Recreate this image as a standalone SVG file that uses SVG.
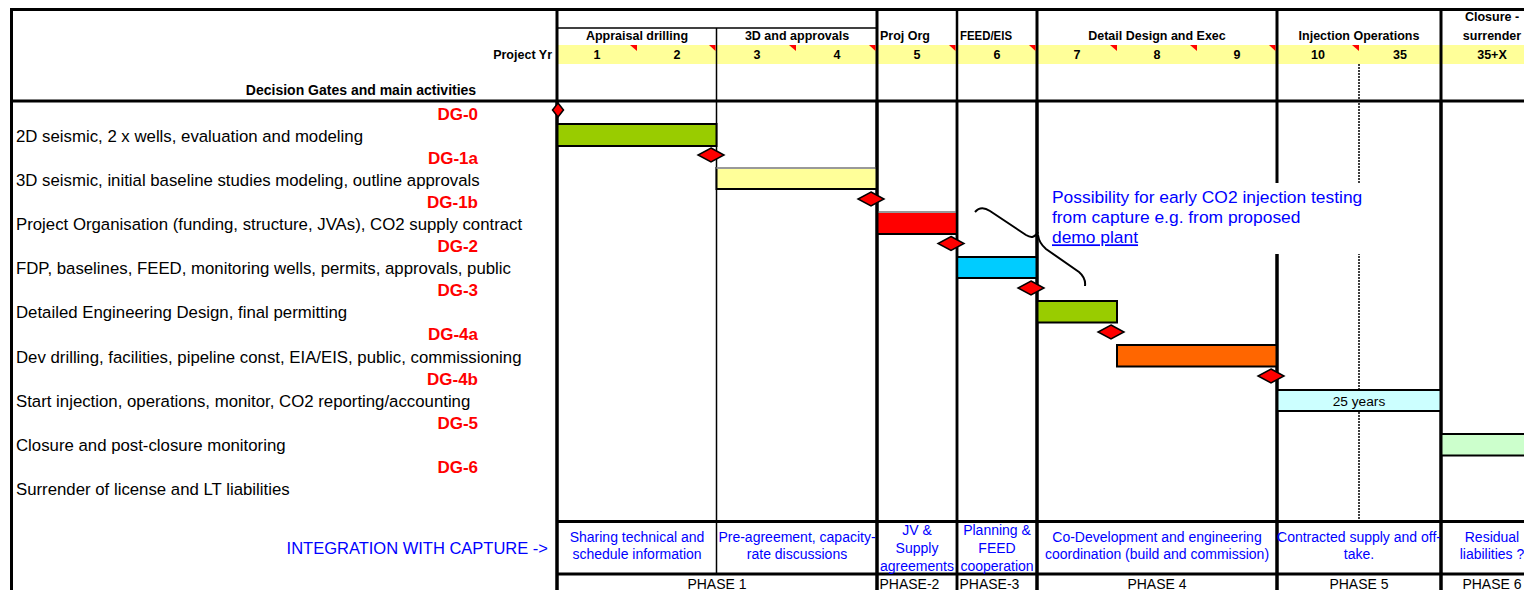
<svg xmlns="http://www.w3.org/2000/svg" width="1524" height="590" viewBox="0 0 1524 590">
<style>
text { font-family: "Liberation Sans", Arial, sans-serif; }
.hb { font-size:12.5px; font-weight:bold; fill:#000; text-anchor:middle; }
.lbl { font-size:16.8px; fill:#000; }
.dg { font-size:17px; font-weight:bold; fill:#FF0000; text-anchor:end; }
.int { font-size:14px; fill:#0000FF; text-anchor:middle; }
.ph { font-size:14px; fill:#000; }
.thick { stroke:#000; stroke-width:3; fill:none; }
.med { stroke:#000; stroke-width:2.5; fill:none; }
.thin { stroke:#000; stroke-width:1.5; fill:none; }
.dot { stroke:#000; stroke-width:1.5; stroke-dasharray:2 1; fill:none; }
.bar { stroke:#000; stroke-width:2; }
.ms { fill:#FF0000; stroke:#000; stroke-width:1.5; }
.tri { fill:#FF0000; }
.call { font-size:17.4px; fill:#0000FF; }
</style>
<rect x="0" y="0" width="1524" height="590" fill="#FFFFFF"/>

<g id="header-band">
  <rect x="558" y="45" width="966" height="19" fill="#FFFF99"/>
</g>

<g id="grid">
  <path class="thick" d="M10,9.5 H1524"/>
  <path class="thick" d="M11.5,8 V590"/>
  <path class="thick" d="M10,101 H1524"/>
  <path class="thick" d="M557,8 V590"/>
  <path class="thin" d="M557,28 H877"/>
  <path class="thin" d="M716.5,28 V574"/>
  <path class="thick" d="M877,8 V590"/>
  <path class="med" d="M957,8 V590"/>
  <path class="thick" d="M1037,8 V590"/>
  <path class="thick" d="M1277,8 V590"/>
  <path class="dot" d="M1359,64 V521"/>
  <path class="thick" d="M1441,8 V590"/>
  <path class="thick" d="M557,521.5 H1524"/>
  <path class="thick" d="M557,574 H1524"/>
</g>

<g id="comment-marks">
  <polygon class="tri" points="630,45 637,45 637,51"/>
  <polygon class="tri" points="709,45 715.5,45 715.5,51"/>
  <polygon class="tri" points="789,45 796,45 796,51"/>
  <polygon class="tri" points="869,45 875.5,45 875.5,51"/>
  <polygon class="tri" points="949,45 955.5,45 955.5,51"/>
  <polygon class="tri" points="1029,45 1035.5,45 1035.5,51"/>
  <polygon class="tri" points="1110,45 1117,45 1117,51"/>
  <polygon class="tri" points="1190,45 1197,45 1197,51"/>
  <polygon class="tri" points="1269,45 1275.5,45 1275.5,51"/>
  <polygon class="tri" points="1352,45 1359,45 1359,51"/>
</g>

<g id="header-text">
  <text class="hb" x="552" y="58.5" style="text-anchor:end">Project Yr</text>
  <text x="361" y="95" style="font-size:14px;font-weight:bold;text-anchor:middle">Decision Gates and main activities</text>
  <text class="hb" x="637" y="40">Appraisal drilling</text>
  <text class="hb" x="797" y="40">3D and approvals</text>
  <text class="hb" x="880" y="40" style="text-anchor:start">Proj Org</text>
  <text class="hb" x="960" y="40" style="text-anchor:start" textLength="52" lengthAdjust="spacingAndGlyphs">FEED/EIS</text>
  <text class="hb" x="1157" y="40">Detail Design and Exec</text>
  <text class="hb" x="1359" y="40">Injection Operations</text>
  <text class="hb" x="1492" y="21">Closure -</text>
  <text class="hb" x="1492" y="40">surrender</text>
  <text class="hb" x="597" y="58.5">1</text>
  <text class="hb" x="677" y="58.5">2</text>
  <text class="hb" x="757" y="58.5">3</text>
  <text class="hb" x="837" y="58.5">4</text>
  <text class="hb" x="917" y="58.5">5</text>
  <text class="hb" x="997" y="58.5">6</text>
  <text class="hb" x="1077" y="58.5">7</text>
  <text class="hb" x="1157" y="58.5">8</text>
  <text class="hb" x="1237" y="58.5">9</text>
  <text class="hb" x="1318" y="58.5">10</text>
  <text class="hb" x="1400" y="58.5">35</text>
  <text class="hb" x="1492" y="58.5">35+X</text>
</g>

<g id="row-labels">
  <text class="dg" x="478" y="119.6">DG-0</text>
  <text class="lbl" x="16" y="141.7">2D seismic, 2 x wells, evaluation and modeling</text>
  <text class="dg" x="478" y="163.8">DG-1a</text>
  <text class="lbl" x="16" y="185.8">3D seismic, initial baseline studies modeling, outline approvals</text>
  <text class="dg" x="478" y="207.9">DG-1b</text>
  <text class="lbl" x="16" y="230">Project Organisation (funding, structure, JVAs), CO2 supply contract</text>
  <text class="dg" x="478" y="252.1">DG-2</text>
  <text class="lbl" x="16" y="274.2">FDP, baselines, FEED, monitoring wells, permits, approvals, public</text>
  <text class="dg" x="478" y="296.2">DG-3</text>
  <text class="lbl" x="16" y="318.3">Detailed Engineering Design, final permitting</text>
  <text class="dg" x="478" y="340.4">DG-4a</text>
  <text class="lbl" x="16" y="362.5">Dev drilling, facilities, pipeline const, EIA/EIS, public, commissioning</text>
  <text class="dg" x="478" y="384.6">DG-4b</text>
  <text class="lbl" x="16" y="406.6">Start injection, operations, monitor, CO2 reporting/accounting</text>
  <text class="dg" x="478" y="428.7">DG-5</text>
  <text class="lbl" x="16" y="450.8">Closure and post-closure monitoring</text>
  <text class="dg" x="478" y="472.9">DG-6</text>
  <text class="lbl" x="16" y="495">Surrender of license and LT liabilities</text>
</g>

<g id="callout">
  <rect x="1042" y="183" width="338" height="71" fill="#FFFFFF"/>
  <text class="call" x="1052" y="203.3">Possibility for early CO2 injection testing</text>
  <text class="call" x="1052" y="223.3">from capture e.g. from proposed</text>
  <text class="call" x="1052" y="243.3" text-decoration="underline" style="text-decoration:underline">demo plant</text>
</g>

<g id="bar-1"><rect class="bar" x="557" y="124" width="159.5" height="22" fill="#99CC00"/></g>
<g id="bar-2"><rect class="bar" x="716.5" y="168" width="160.5" height="21" fill="#FFFF99"/><path d="M716.5,168 H877" stroke="#999" stroke-width="2"/></g>
<g id="bar-3"><rect class="bar" x="877" y="212" width="80" height="22" fill="#FF0000"/><path d="M877,212 H957" stroke="#999" stroke-width="2"/></g>
<g id="bar-4"><rect class="bar" x="957" y="257" width="80" height="21" fill="#00CCFF"/></g>
<g id="bar-5"><rect class="bar" x="1037" y="301" width="80" height="21.5" fill="#99CC00"/></g>
<g id="bar-6"><rect class="bar" x="1117" y="345" width="160" height="21.5" fill="#FF6600"/></g>
<g id="bar-7"><rect class="bar" x="1277" y="390" width="164" height="21" fill="#CCFFFF"/>
  <text x="1359" y="406" style="font-size:13.7px;text-anchor:middle;fill:#000">25 years</text></g>
<g id="bar-8"><rect class="bar" x="1441" y="434" width="90" height="21.5" fill="#CCFFCC"/></g>

<g id="redraw-lines">
  <path class="thick" d="M557,101 V590"/>
  <path class="thick" d="M877,101 V590"/>
  <path class="med" d="M957,101 V590"/>
  <path class="thick" d="M1037,101 V590"/>
  <path class="thick" d="M1277,254 V590"/>
  <path class="thick" d="M1441,101 V590"/>
</g>

<g id="dg-0"><polygon class="ms" points="558,103 563.5,110 558,117 552.5,110"/></g>
<g id="dg-1a"><polygon class="ms" points="711,148 724,155 711,162 698,155"/></g>
<g id="dg-1b"><polygon class="ms" points="871,192 884,199 871,206 858,199"/></g>
<g id="dg-2"><polygon class="ms" points="951,236.5 964,243.5 951,250.5 938,243.5"/></g>
<g id="dg-3"><polygon class="ms" points="1031,281 1044,288 1031,295 1018,288"/></g>
<g id="dg-4a"><polygon class="ms" points="1111,325 1124,332 1111,339 1098,332"/></g>
<g id="dg-4b"><polygon class="ms" points="1271,369 1284,376 1271,383 1258,376"/></g>

<g id="connectors">
  <path d="M975,212 Q981,205 990,211 L1026,235 Q1034,240 1038,232 M1038,235 Q1039,243 1046,249 L1079,272 Q1086,278 1085,286" fill="none" stroke="#000" stroke-width="2"/>
</g>

<g id="integration">
  <text x="548" y="554" style="font-size:16.5px;fill:#0000FF;text-anchor:end">INTEGRATION WITH CAPTURE -&gt;</text>
  <text class="int" x="637" y="541.7">Sharing technical and</text>
  <text class="int" x="637" y="559.3">schedule information</text>
  <text class="int" x="797" y="541.7">Pre-agreement, capacity-</text>
  <text class="int" x="797" y="559.3">rate discussions</text>
  <text class="int" x="917" y="535">JV &amp;</text>
  <text class="int" x="917" y="553.3">Supply</text>
  <text class="int" x="917" y="571">agreements</text>
  <text class="int" x="997" y="535">Planning &amp;</text>
  <text class="int" x="997" y="553.3">FEED</text>
  <text class="int" x="997" y="571">cooperation</text>
  <text class="int" x="1157" y="541.7">Co-Development and engineering</text>
  <text class="int" x="1157" y="559.3">coordination (build and commission)</text>
  <text class="int" x="1359" y="541.7">Contracted supply and off-</text>
  <text class="int" x="1359" y="559.3">take.</text>
  <text class="int" x="1492" y="541.7">Residual</text>
  <text class="int" x="1492" y="559.3">liabilities ?</text>
</g>

<g id="phases">
  <text class="ph" x="717" y="588.5" style="text-anchor:middle">PHASE 1</text>
  <text class="ph" x="879.5" y="588.5">PHASE-2</text>
  <text class="ph" x="959.5" y="588.5">PHASE-3</text>
  <text class="ph" x="1157" y="588.5" style="text-anchor:middle">PHASE 4</text>
  <text class="ph" x="1359" y="588.5" style="text-anchor:middle">PHASE 5</text>
  <text class="ph" x="1492" y="588.5" style="text-anchor:middle">PHASE 6</text>
</g>
</svg>
